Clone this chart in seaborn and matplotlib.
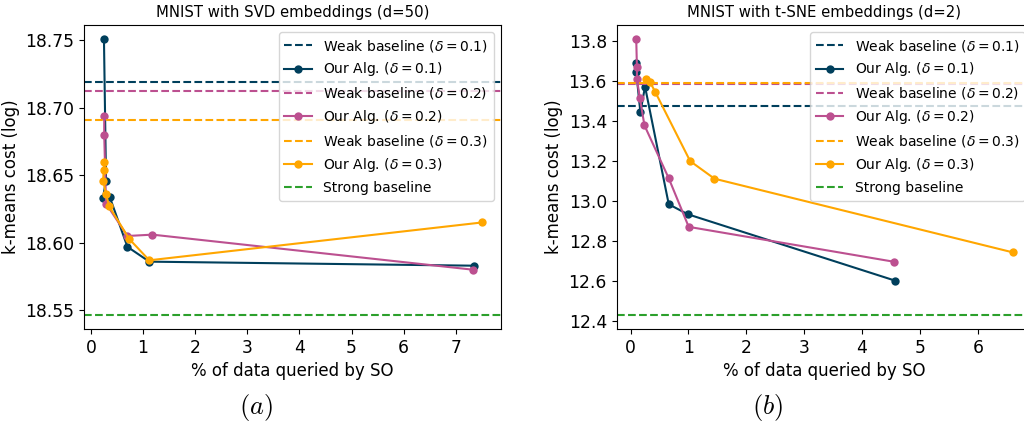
import pandas as pd
import matplotlib
matplotlib.use('Agg')
import matplotlib.pyplot as plt
from matplotlib.ticker import MultipleLocator, FormatStrFormatter
import seaborn as sns

# Colours for the three delta settings
colors = {0.1: '#003f5c', 0.2: '#bc5090', 0.3: '#ffa600'}
strong_color = '#2ca02c'

# Left panel: MNIST with SVD embeddings (d=50)
svd_x_01 = [0.25, 0.29, 0.23, 0.36, 0.70, 1.12, 7.36]
svd_y_01 = [18.751, 18.646, 18.633, 18.634, 18.597, 18.586, 18.583]
svd_x_02 = [0.255, 0.255, 0.29, 0.70, 1.18, 7.34]
svd_y_02 = [18.694, 18.680, 18.629, 18.605, 18.606, 18.580]
svd_x_03 = [0.255, 0.245, 0.235, 0.29, 0.35, 0.73, 1.12, 7.50]
svd_y_03 = [18.660, 18.654, 18.646, 18.636, 18.627, 18.603, 18.587, 18.615]
svd_weak = {0.1: 18.719, 0.2: 18.7127, 0.3: 18.691}
svd_strong = 18.5465

# Right panel: MNIST with t-SNE embeddings (d=2)
tsne_x_01 = [0.086, 0.098, 0.17, 0.25, 0.66, 0.99, 4.57]
tsne_y_01 = [13.689, 13.645, 13.442, 13.571, 12.982, 12.932, 12.600]
tsne_x_02 = [0.098, 0.11, 0.11, 0.16, 0.24, 0.66, 1.005, 4.56]
tsne_y_02 = [13.810, 13.669, 13.609, 13.514, 13.377, 13.112, 12.869, 12.694]
tsne_x_03 = [0.27, 0.34, 0.43, 1.03, 1.45, 6.61]
tsne_y_03 = [13.610, 13.592, 13.542, 13.198, 13.110, 12.741]
tsne_weak = {0.1: 13.476, 0.2: 13.583, 0.3: 13.589}
tsne_strong = 12.428

plt.rcParams['font.family'] = ['DejaVu Sans']
plt.rcParams['mathtext.fontset'] = 'dejavusans'

fig = plt.figure(figsize=(10.24, 4.21), dpi=100)
ax1 = fig.add_axes([0.082, 0.219, 0.407, 0.7216])
ax2 = fig.add_axes([0.6022, 0.219, 0.4056, 0.7216])


def draw_panel(ax, series, weak, strong, title):
    for d, xs, ys in series:
        ax.axhline(weak[d], color=colors[d], linestyle='--', linewidth=1.5,
                   label=r'Weak baseline ($\delta = %.1f$)' % d)
        df = pd.DataFrame({'x': xs, 'y': ys})
        sns.lineplot(data=df, x='x', y='y', ax=ax, sort=False, estimator=None,
                     color=colors[d], marker='o', markersize=6, linewidth=1.5,
                     markeredgewidth=0, label=r'Our Alg. ($\delta = %.1f$)' % d)
    ax.axhline(strong, color=strong_color, linestyle='--', linewidth=1.5,
               label='Strong baseline')
    ax.set_title(title, fontsize=10.7)
    ax.set_xlabel('% of data queried by SO', fontsize=12)
    ax.set_ylabel('k-means cost (log)', fontsize=12)
    ax.tick_params(labelsize=12.3)
    ax.legend(loc='upper right', fontsize=10)


draw_panel(ax1, [(0.1, svd_x_01, svd_y_01), (0.2, svd_x_02, svd_y_02),
                 (0.3, svd_x_03, svd_y_03)],
           svd_weak, svd_strong, 'MNIST with SVD embeddings (d=50)')
draw_panel(ax2, [(0.1, tsne_x_01, tsne_y_01), (0.2, tsne_x_02, tsne_y_02),
                 (0.3, tsne_x_03, tsne_y_03)],
           tsne_weak, tsne_strong, 'MNIST with t-SNE embeddings (d=2)')

ax1.set_xticks(range(0, 8))
ax2.set_xticks(range(0, 7))
ax1.yaxis.set_major_locator(MultipleLocator(0.05))
ax1.yaxis.set_major_formatter(FormatStrFormatter('%.2f'))
ax2.yaxis.set_major_locator(MultipleLocator(0.2))
ax2.yaxis.set_major_formatter(FormatStrFormatter('%.1f'))

# Sub-captions
fig.text(0.25, 0.033, r'$(a)$', ha='center', va='center', fontsize=19,
         math_fontfamily='cm')
fig.text(0.75, 0.033, r'$(b)$', ha='center', va='center', fontsize=19,
         math_fontfamily='cm')

fig.savefig('out.png', dpi=100)
